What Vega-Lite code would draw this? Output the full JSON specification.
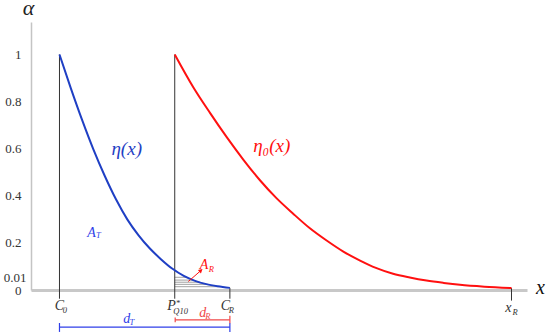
{
  "$schema": "https://vega.github.io/schema/vega-lite/v6.json",
  "width": 496,
  "height": 268,
  "autosize": {"type": "none"},
  "padding": {"left": 31, "top": 22, "right": 23, "bottom": 45},
  "background": "white",
  "config": {"view": {"stroke": null}},
  "datasets": {
    "curves": [
      {"s": "blue", "x": 0, "y": 1.0},
      {"s": "blue", "x": 0.25, "y": 0.857},
      {"s": "blue", "x": 0.5, "y": 0.722},
      {"s": "blue", "x": 0.75, "y": 0.597},
      {"s": "blue", "x": 1.0, "y": 0.485},
      {"s": "blue", "x": 1.25, "y": 0.385},
      {"s": "blue", "x": 1.5, "y": 0.3},
      {"s": "blue", "x": 1.75, "y": 0.232},
      {"s": "blue", "x": 2.0, "y": 0.176},
      {"s": "blue", "x": 2.25, "y": 0.13},
      {"s": "blue", "x": 2.5, "y": 0.09},
      {"s": "blue", "x": 2.75, "y": 0.06},
      {"s": "blue", "x": 3.0, "y": 0.039},
      {"s": "blue", "x": 3.25, "y": 0.025},
      {"s": "blue", "x": 3.5, "y": 0.016},
      {"s": "blue", "x": 3.77, "y": 0.009},
      {"s": "red", "x": 2.55, "y": 1.0},
      {"s": "red", "x": 2.96, "y": 0.861},
      {"s": "red", "x": 3.33, "y": 0.752},
      {"s": "red", "x": 3.7, "y": 0.649},
      {"s": "red", "x": 4.07, "y": 0.553},
      {"s": "red", "x": 4.44, "y": 0.465},
      {"s": "red", "x": 4.8, "y": 0.39},
      {"s": "red", "x": 5.17, "y": 0.324},
      {"s": "red", "x": 5.54, "y": 0.262},
      {"s": "red", "x": 5.91, "y": 0.21},
      {"s": "red", "x": 6.28, "y": 0.163},
      {"s": "red", "x": 6.65, "y": 0.125},
      {"s": "red", "x": 7.0, "y": 0.094},
      {"s": "red", "x": 7.38, "y": 0.069},
      {"s": "red", "x": 7.75, "y": 0.053},
      {"s": "red", "x": 8.12, "y": 0.04},
      {"s": "red", "x": 8.5, "y": 0.03},
      {"s": "red", "x": 8.86, "y": 0.022},
      {"s": "red", "x": 9.4, "y": 0.014},
      {"s": "red", "x": 10.0, "y": 0.008}
    ],
    "vlines": [
      {"x": 0, "y": 1.0, "y2": -0.037},
      {"x": 2.55, "y": 1.0, "y2": -0.037},
      {"x": 3.77, "y": 0.009, "y2": -0.037},
      {"x": 10.0, "y": 0.008, "y2": -0.045}
    ],
    "hatch": [
      {"x": 2.55, "x2": 2.82, "y": 0.054},
      {"x": 2.55, "x2": 2.96, "y": 0.042},
      {"x": 2.55, "x2": 3.11, "y": 0.033},
      {"x": 2.55, "x2": 3.28, "y": 0.024},
      {"x": 2.55, "x2": 3.57, "y": 0.014}
    ],
    "dims": [
      {"s": "dblue", "x": 0, "x2": 3.77, "y": -0.158},
      {"s": "dred", "x": 2.56, "x2": 3.77, "y": -0.127}
    ],
    "dimticks": [
      {"s": "dblue", "x": 0, "y": -0.14, "y2": -0.178},
      {"s": "dblue", "x": 3.77, "y": -0.14, "y2": -0.178},
      {"s": "dred", "x": 2.56, "y": -0.117, "y2": -0.137},
      {"s": "dred", "x": 3.77, "y": -0.109, "y2": -0.141}
    ],
    "arrow": [{"x": 2.85, "y": 0.036, "x2": 3.13, "y2": 0.083}],
    "head": [{"x": 3.13, "y": 0.083}],
    "labels": [
      {"t": "C", "x": 0, "y": -0.068, "s": "dark"},
      {"t": "P", "x": 2.48, "y": -0.068, "s": "dark"},
      {"t": "C", "x": 3.67, "y": -0.068, "s": "dark"},
      {"t": "x", "x": 9.93, "y": -0.078, "s": "dark"},
      {"t": "d", "x": 1.49, "y": -0.124, "s": "dblue"},
      {"t": "d", "x": 3.17, "y": -0.099, "s": "dred"},
      {"t": "A", "x": 0.71, "y": 0.243, "s": "dblue"},
      {"t": "A", "x": 3.2, "y": 0.108, "s": "red"}
    ],
    "subs": [
      {"t": "0", "x": 0.12, "y": -0.087, "s": "dark"},
      {"t": "*", "x": 2.62, "y": -0.054, "s": "dark"},
      {"t": "Q10", "x": 2.68, "y": -0.088, "s": "dark"},
      {"t": "R", "x": 3.8, "y": -0.085, "s": "dark"},
      {"t": "R", "x": 10.08, "y": -0.095, "s": "dark"},
      {"t": "T", "x": 1.6, "y": -0.136, "s": "dblue"},
      {"t": "R", "x": 3.28, "y": -0.109, "s": "dred"},
      {"t": "T", "x": 0.86, "y": 0.232, "s": "dblue"},
      {"t": "R", "x": 3.36, "y": 0.09, "s": "red"}
    ],
    "big": [
      {"t": "η(x)", "x": 1.487, "y": 0.597, "s": "blue"},
      {"t": "η₀(x)", "x": 4.695, "y": 0.611, "s": "red"}
    ]
  },
  "encoding": {
    "x": {
      "field": "x", "type": "quantitative",
      "scale": {"domain": [-0.63, 10.343], "nice": false, "zero": false},
      "axis": {
        "orient": "bottom", "domain": true, "domainColor": "#c8c8c8", "domainWidth": 3,
        "ticks": false, "labels": false, "grid": false,
        "title": "x", "titleX": 509, "titleY": -3, "titleAlign": "center", "titleBaseline": "middle",
        "titleFont": "Liberation Serif, Times New Roman, DejaVu Serif, serif", "titleFontStyle": "italic", "titleFontWeight": "normal",
        "titleFontSize": 20, "titleColor": "#111"
      }
    },
    "y": {
      "field": "y", "type": "quantitative",
      "scale": {"domain": [0, 1.138], "nice": false, "zero": false},
      "axis": {
        "orient": "left", "domain": true, "domainColor": "#c4c4c4", "domainWidth": 1.5,
        "ticks": false, "tickSize": 0, "grid": false,
        "values": [0, 0.01, 0.2, 0.4, 0.6, 0.8, 1],
        "labelExpr": "'' + datum.value",
        "labelFont": "Liberation Serif, Times New Roman, DejaVu Serif, serif", "labelFontSize": 13, "labelColor": "#333",
        "labelAlign": "right", "labelBaseline": "middle",
        "labelPadding": {"condition": {"test": "datum.value == 0.01", "value": 5}, "value": 10},
        "labelOffset": {"condition": {"test": "datum.value == 0.01", "value": -10}, "value": 0},
        "labelOverlap": false, "labelBound": false, "labelFlush": false,
        "title": "α", "titleAngle": 0, "titleX": -3, "titleY": -8,
        "titleAlign": "center", "titleBaseline": "alphabetic",
        "titleFont": "Liberation Serif, Times New Roman, DejaVu Serif, serif", "titleFontStyle": "italic", "titleFontWeight": "normal",
        "titleFontSize": 22, "titleColor": "#222"
      }
    }
  },
  "layer": [
    {
      "data": {"name": "hatch"},
      "mark": {"type": "rule", "color": "#8a8a8a", "strokeWidth": 0.8},
      "encoding": {"x2": {"field": "x2"}}
    },
    {
      "data": {"name": "vlines"},
      "mark": {"type": "rule", "color": "#333333", "strokeWidth": 1},
      "encoding": {"y2": {"field": "y2"}}
    },
    {
      "data": {"name": "curves"},
      "mark": {"type": "line", "interpolate": "monotone", "strokeWidth": 2},
      "encoding": {
        "color": {"field": "s", "type": "nominal", "legend": null,
          "scale": {"domain": ["blue", "red", "dark", "dblue", "dred"], "range": ["#1f3fc4", "#ff1010", "#333333", "#2f3fe8", "#f04848"]}}
      }
    },
    {
      "data": {"name": "dims"},
      "mark": {"type": "rule", "strokeWidth": 1.2},
      "encoding": {
        "x2": {"field": "x2"},
        "color": {"field": "s", "type": "nominal", "legend": null,
          "scale": {"domain": ["blue", "red", "dark", "dblue", "dred"], "range": ["#1f3fc4", "#ff1010", "#333333", "#2f3fe8", "#f04848"]}}
      }
    },
    {
      "data": {"name": "dimticks"},
      "mark": {"type": "rule", "strokeWidth": 1.2},
      "encoding": {
        "y2": {"field": "y2"},
        "color": {"field": "s", "type": "nominal", "legend": null,
          "scale": {"domain": ["blue", "red", "dark", "dblue", "dred"], "range": ["#1f3fc4", "#ff1010", "#333333", "#2f3fe8", "#f04848"]}}
      }
    },
    {
      "data": {"name": "arrow"},
      "mark": {"type": "rule", "color": "#ff1010", "strokeWidth": 1},
      "encoding": {"x2": {"field": "x2"}, "y2": {"field": "y2"}}
    },
    {
      "data": {"name": "head"},
      "mark": {"type": "point", "shape": "triangle-up", "filled": true, "color": "#ff1010", "size": 22, "angle": 49, "opacity": 1},
      "encoding": {}
    },
    {
      "data": {"name": "labels"},
      "mark": {"type": "text", "font": "Liberation Serif, Times New Roman, DejaVu Serif, serif", "fontStyle": "italic", "fontSize": 14, "align": "center", "baseline": "middle"},
      "encoding": {
        "text": {"field": "t"},
        "color": {"field": "s", "type": "nominal", "legend": null,
          "scale": {"domain": ["blue", "red", "dark", "dblue", "dred"], "range": ["#1f3fc4", "#ff1010", "#333333", "#2f3fe8", "#f04848"]}}
      }
    },
    {
      "data": {"name": "subs"},
      "mark": {"type": "text", "font": "Liberation Serif, Times New Roman, DejaVu Serif, serif", "fontStyle": "italic", "fontSize": 8.5, "align": "center", "baseline": "middle"},
      "encoding": {
        "text": {"field": "t"},
        "color": {"field": "s", "type": "nominal", "legend": null,
          "scale": {"domain": ["blue", "red", "dark", "dblue", "dred"], "range": ["#1f3fc4", "#ff1010", "#333333", "#2f3fe8", "#f04848"]}}
      }
    },
    {
      "data": {"name": "big"},
      "mark": {"type": "text", "font": "Liberation Serif, Times New Roman, DejaVu Serif, serif", "fontStyle": "italic", "fontSize": 19, "align": "center", "baseline": "middle"},
      "encoding": {
        "text": {"field": "t"},
        "color": {"field": "s", "type": "nominal", "legend": null,
          "scale": {"domain": ["blue", "red", "dark", "dblue", "dred"], "range": ["#1f3fc4", "#ff1010", "#333333", "#2f3fe8", "#f04848"]}}
      }
    }
  ]
}
